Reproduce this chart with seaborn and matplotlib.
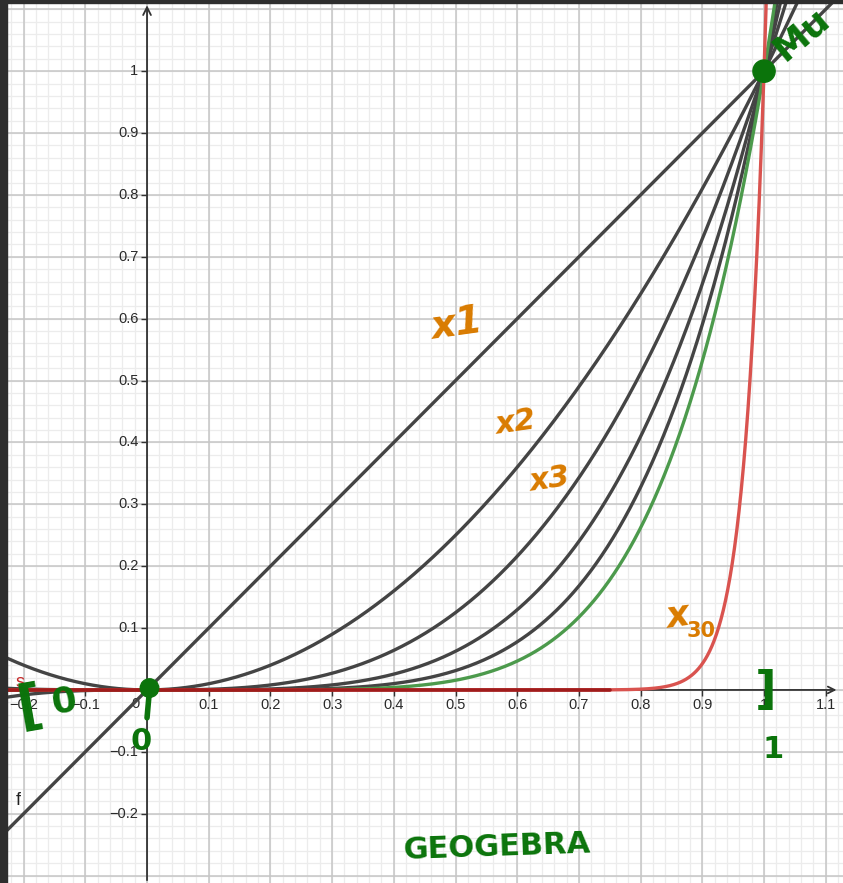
import numpy as np
import pandas as pd
import matplotlib
matplotlib.use("Agg")
import matplotlib.pyplot as plt
from matplotlib.patches import Rectangle, Circle, Ellipse
import seaborn as sns

# Power functions x^n drawn on the same axes
exponents = [1, 2, 3, 4, 5, 6, 30]
curve_colors = ["#444444", "#444444", "#444444", "#444444", "#444444",
                "#4c9a4c", "#d9534f"]

x_ticks = [-0.2, -0.1, 0.1, 0.2, 0.3, 0.4, 0.5, 0.6, 0.7, 0.8, 0.9, 1.0, 1.1]
x_tick_labels = ["−0.2", "−0.1", "0.1", "0.2", "0.3", "0.4", "0.5", "0.6",
                 "0.7", "0.8", "0.9", "1", "1.1"]
y_ticks = [-0.2, -0.1, 0.1, 0.2, 0.3, 0.4, 0.5, 0.6, 0.7, 0.8, 0.9, 1.0]
y_tick_labels = ["−0.2", "−0.1", "0.1", "0.2", "0.3", "0.4", "0.5", "0.6",
                 "0.7", "0.8", "0.9", "1"]

x_min, x_max = -0.2383, 1.128
y_min, y_max = -0.312, 1.115

sns.set_theme(style="white")
plt.rcParams["font.family"] = ["Liberation Sans", "DejaVu Sans"]

fig = plt.figure(figsize=(8.43, 8.83), dpi=100)
ax = fig.add_axes([0, 0, 1, 1])
ax.set_xlim(x_min, x_max)
ax.set_ylim(y_min, y_max)
for s in ax.spines.values():
    s.set_visible(False)
ax.set_xticks([])
ax.set_yticks([])

# Grid: minor every 0.02, major every 0.1
minor = np.round(np.arange(-0.3, 1.2001, 0.02), 4)
major = np.round(np.arange(-0.3, 1.2001, 0.1), 4)
for v in minor:
    ax.axvline(v, color="#ececec", lw=0.9, zorder=0)
    ax.axhline(v, color="#ececec", lw=0.9, zorder=0)
for v in major:
    ax.axvline(v, color="#c6c6c6", lw=1.1, zorder=0.5)
    ax.axhline(v, color="#c6c6c6", lw=1.1, zorder=0.5)

# Axes with arrow heads
ax.annotate("", xy=(0, y_max - 0.004), xytext=(0, y_min),
            arrowprops=dict(arrowstyle="->", color="#333333", lw=1.3,
                            mutation_scale=14), zorder=2)
ax.annotate("", xy=(x_max - 0.006, 0), xytext=(x_min, 0),
            arrowprops=dict(arrowstyle="->", color="#333333", lw=1.3,
                            mutation_scale=12), zorder=2)
ax.plot([0] * len(y_ticks), y_ticks, ls="none", marker=0, ms=4,
        mew=1, color="#333333", zorder=2)
ax.plot(x_ticks, [0] * len(x_ticks), ls="none", marker=3, ms=4,
        mew=1, color="#333333", zorder=2)

# Tick labels
for v, lab in zip(x_ticks, x_tick_labels):
    ax.text(v, -0.024, lab, ha="center", va="center", fontsize=10.5,
            color="#2a2a2a", zorder=3)
ax.text(-0.018, -0.022, "0", ha="center", va="center", fontsize=10.5,
        color="#2a2a2a", zorder=3)
for v, lab in zip(y_ticks, y_tick_labels):
    ax.text(-0.014, v, lab, ha="right", va="center", fontsize=10.5,
            color="#2a2a2a", zorder=3)

# Curves
xs = np.linspace(x_min, x_max, 1500)
df = pd.DataFrame({
    "x": np.tile(xs, len(exponents)),
    "n": np.repeat([str(n) for n in exponents], len(xs)),
})
df["y"] = df["x"] ** df["n"].astype(int)
df = df[(df["y"] > y_min - 0.5) & (df["y"] < y_max + 0.5)]
sns.lineplot(data=df, x="x", y="y", hue="n", palette=curve_colors,
             hue_order=[str(n) for n in exponents], sort=False,
             estimator=None, lw=2.4, legend=False, ax=ax, zorder=4)
ax.set_xlim(x_min, x_max)
ax.set_ylim(y_min, y_max)
ax.set_xlabel("")
ax.set_ylabel("")
# Dark red overlay where x^30 sits on the axis
ax.plot([x_min, 0.75], [0, 0], color="#a01c1c", lw=2.6, zorder=4.5)

ax.text(-0.209, -0.178, "f", fontsize=13, color="#222222",
        ha="center", va="center", zorder=5)
ax.text(-0.206, 0.012, "s", fontsize=13, color="#c62828",
        ha="center", va="center", zorder=5)

# Hand annotations
orange = "#d97b00"
green = "#0b740b"
hand = dict(fontweight="heavy", family=["DejaVu Sans"], zorder=6)
ax.text(0.502, 0.59, "x1", fontsize=28, color=orange, rotation=8,
        ha="center", va="center", style="italic", **hand)
ax.text(0.597, 0.432, "x2", fontsize=22, color=orange, rotation=8,
        ha="center", va="center", style="italic", **hand)
ax.text(0.652, 0.340, "x3", fontsize=22, color=orange, rotation=8,
        ha="center", va="center", style="italic", **hand)
ax.text(0.860, 0.118, "x", fontsize=26, color=orange, rotation=8,
        ha="center", va="center", style="italic", **hand)
ax.text(0.898, 0.095, "30", fontsize=15, color=orange,
        ha="center", va="center", **hand)
ax.text(0.567, -0.255, "GEOGEBRA", fontsize=22, color=green, rotation=2,
        ha="center", va="center", **hand)
ax.text(-0.190, -0.03, "[", fontsize=40, color=green, rotation=10,
        ha="center", va="center", **hand)
ax.text(-0.135, -0.018, "0", fontsize=26, color=green, rotation=10,
        ha="center", va="center", **hand)
ax.text(-0.010, -0.083, "0", fontsize=22, color=green,
        ha="center", va="center", **hand)
ax.text(1.003, -0.002, "]", fontsize=34, color=green,
        ha="center", va="center", **hand)
ax.text(1.015, -0.097, "1", fontsize=22, color=green,
        ha="center", va="center", **hand)
ax.text(1.06, 1.06, "Mu", fontsize=26, color=green, rotation=40,
        ha="center", va="center", **hand)
ax.add_patch(Ellipse((0.004, 0.003), 0.03, 0.03, color=green, zorder=6))
ax.plot([0.004, 0.0], [0.0, -0.045], color=green, lw=4,
        solid_capstyle="round", zorder=6)
ax.add_patch(Ellipse((1.0, 1.0), 0.036, 0.036, color=green, zorder=6))

# Window frame edges
fig.patches.append(Rectangle((0, 0), 7 / 843, 1, transform=fig.transFigure,
                             color="#2e2e2e", zorder=10))
fig.patches.append(Rectangle((0, 1 - 3 / 883), 1, 3 / 883,
                             transform=fig.transFigure, color="#2e2e2e",
                             zorder=10))

fig.savefig("out.png", dpi=100)
